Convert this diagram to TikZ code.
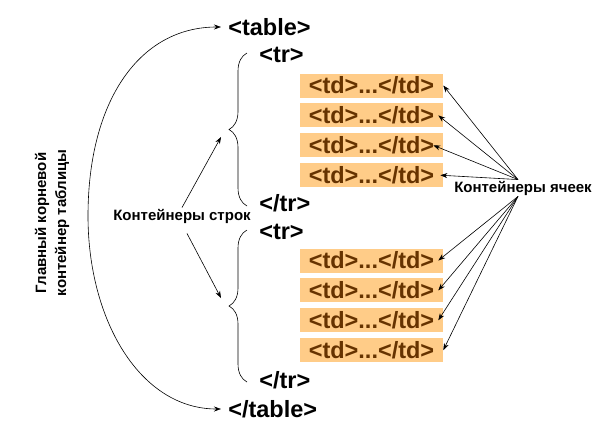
\documentclass[tikz,border=0pt]{standalone}
\usepackage{fontspec}
\setmainfont{Liberation Sans}
\usetikzlibrary{positioning,decorations.pathreplacing,arrows.meta}
\definecolor{cellfill}{HTML}{FFCC88}
\definecolor{celltext}{HTML}{663300}

\begin{document}
\begin{tikzpicture}[x=1pt,y=-1pt,>={Stealth[length=7pt,width=5pt]},line width=0.6pt,
    tag node/.style={anchor=west,inner sep=0pt,font=\fontsize{23.5}{28}\selectfont\bfseries},
    cell node/.style={fill=cellfill,text=celltext,minimum width=143pt,minimum height=24pt,inner sep=0pt,font=\fontsize{23.5}{28}\selectfont\bfseries},
    note node/.style={align=center,inner sep=1pt,font=\fontsize{15}{20}\selectfont\bfseries}]
    \useasboundingbox (0,0) rectangle (600,432);

    % tags
    \node[tag node] (tbl) at (228,27) {<table>};
    \node[tag node] (tr1) at (259,55) {<tr>};
    \node[tag node] (etr1) at (259,203) {</tr>};
    \node[tag node] (tr2) at (259,232) {<tr>};
    \node[tag node] (etr2) at (259,380) {</tr>};
    \node[tag node] (etbl) at (228,409) {</table>};

    % cells
    \node[cell node] (c1) at (371.5,85.5) {<td>...</td>};
    \foreach \i [count=\j from 1] in {2,3,4}
        \node[cell node, below=5.3pt of c\j] (c\i) {<td>...</td>};
    \node[cell node] (c5) at (371.5,260.5) {<td>...</td>};
    \foreach \i [count=\j from 5] in {6,7,8}
        \node[cell node, below=5.3pt of c\j] (c\i) {<td>...</td>};

    % braces
    \draw[decorate,decoration={brace,amplitude=18pt}] (247,206) -- (247,53);
    \draw[decorate,decoration={brace,amplitude=18pt}] (247,382) -- (247,230);
    \coordinate (tip1) at (221,137);
    \coordinate (tip2) at (221,298);

    % labels
    \node[note node] (rows) at (182,216) {Контейнеры строк};
    \node[note node] (cells) at (523,188) {Контейнеры ячеек};
    \node[note node,rotate=90] (root) at (52,223) {Главный корневой\\контейнер таблицы};

    \path[->]
        (rows.north) edge (tip1)
        ([shift={(5,9)}]rows.south) edge (tip2)
        ;
    \foreach \i/\dx in {1/0,2/-5,3/-10,4/-3}
        \draw[->] ([xshift=-5pt]cells.north) -- ([xshift=\dx pt]c\i.east);
    \foreach \i/\dx in {5/-5,6/-5,7/-5,8/0}
        \draw[->] ([xshift=-5pt]cells.south) -- ([xshift=\dx pt]c\i.east);

    % root arrow
    \coordinate (bend) at (88,216);
    \draw[<->] ([xshift=-7pt]tbl.west) .. controls (140,27) and (88,100) .. (bend)
        .. controls (88,320) and (140,409) .. ([xshift=-7pt]etbl.west);
\end{tikzpicture}
\end{document}
